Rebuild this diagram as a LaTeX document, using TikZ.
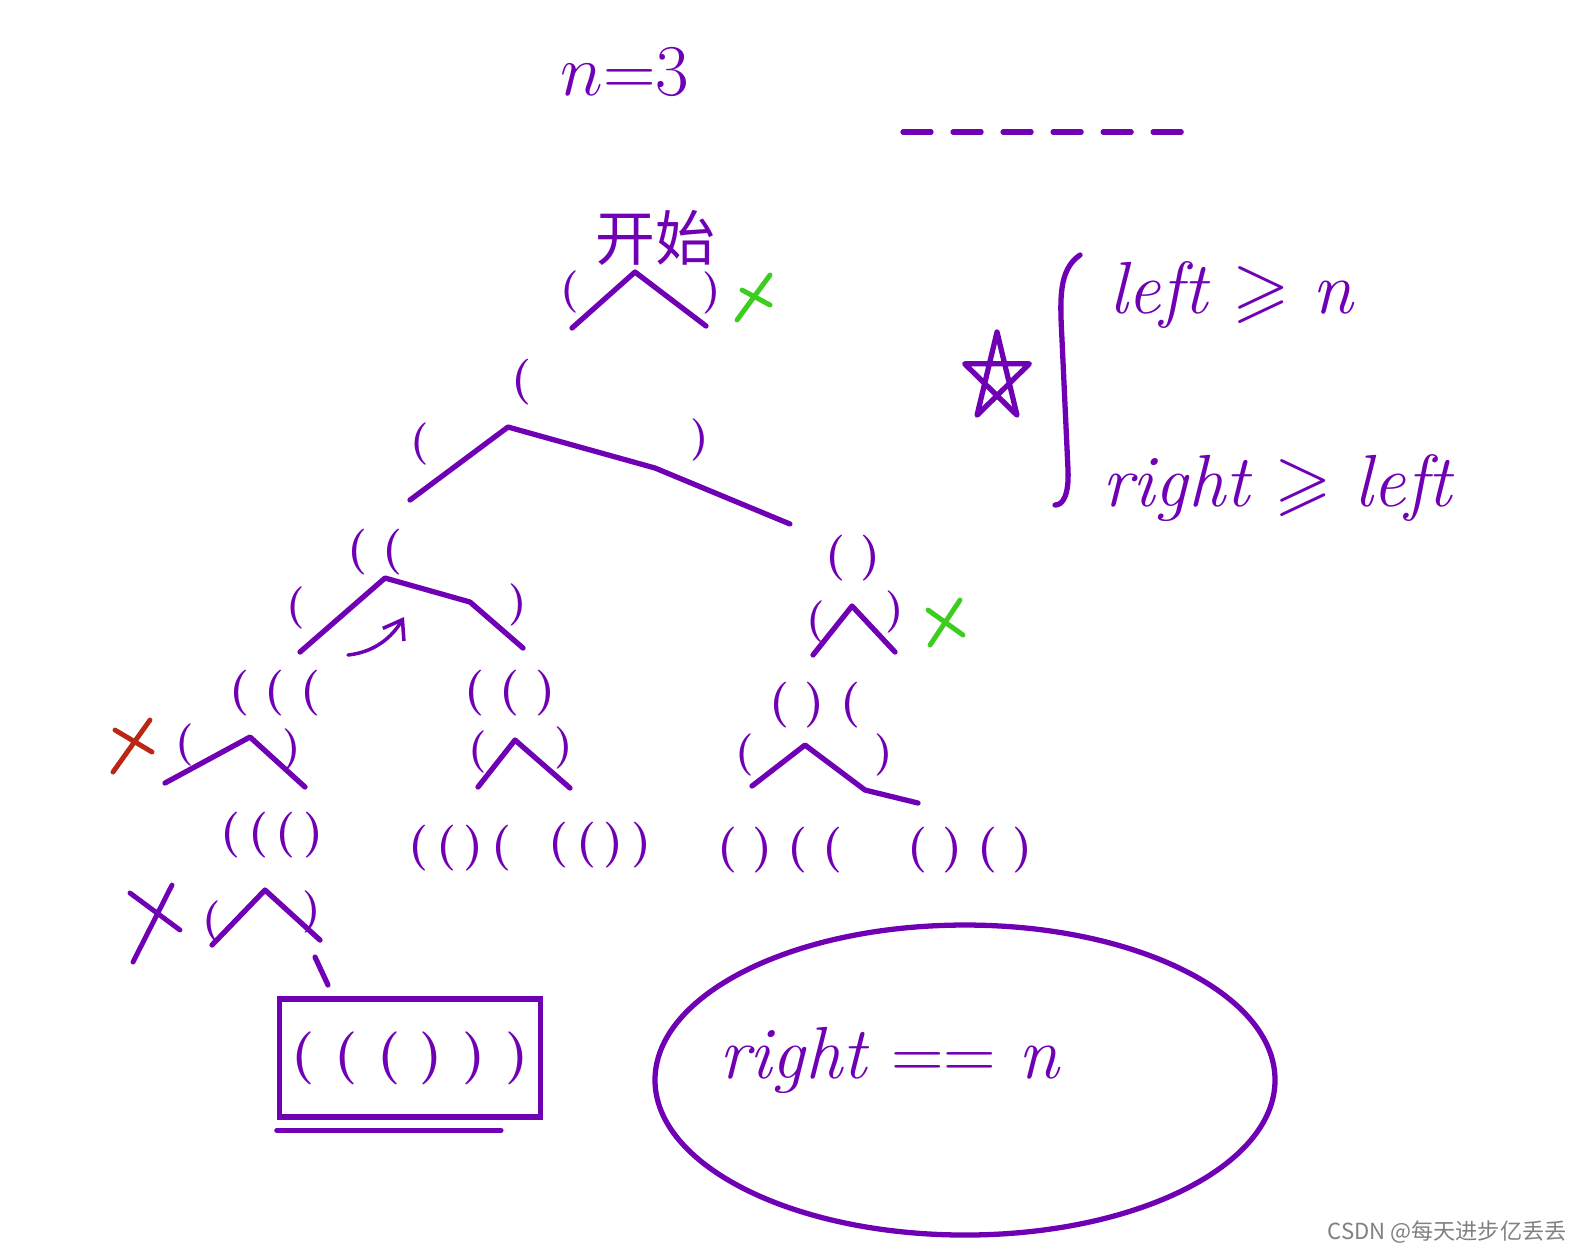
\documentclass[tikz,border=0pt]{standalone}
\usepackage{amssymb}
\usepackage{fontspec}
\newfontfamily\cjk{Noto Sans CJK SC}
\usetikzlibrary{arrows.meta}

\definecolor{pen}{RGB}{112,0,180}
\definecolor{okgreen}{RGB}{60,205,30}
\definecolor{badred}{RGB}{185,40,20}

\tikzset{
  edge/.style={pen, line width=1.5pt, line cap=round, line join=round},
  state/.style={pen, font=\bfseries\fontsize{13}{15}\selectfont, inner sep=1pt},
  brk/.style={pen, font=\bfseries\fontsize{12}{14}\selectfont, inner sep=1pt},
  cross/.style={line width=1.4pt, line cap=round},
  hand/.style={pen, font=\fontsize{21}{25}\selectfont, inner sep=1pt}
}

\begin{document}
\begin{tikzpicture}[x=0.01cm, y=-0.01cm]
    \useasboundingbox (0,0) rectangle (1577,1259);

    % n and the empty slots
    \node[hand, font=\fontsize{22}{26}\selectfont] (nval) at (625,72) {${n}{=}{3}$};
    \coordinate (slotL) at (903,132);
    \coordinate (slotR) at (1183,132);
    \draw[edge, dash pattern=on 0.28cm off 0.22cm] (slotL) -- (slotR);

    % Root
    \node[pen, font=\cjk\fontsize{17}{20}\selectfont] (start) at (655,238) {开始};
    \coordinate (a0) at (635,272);
    \coordinate (a0l) at (572,328);
    \coordinate (a0r) at (706,326);
    \draw[edge] (a0l) -- (a0) -- (a0r);
    \node[brk] (b0l) at (570,292) {(};
    \node[brk] (b0r) at (712,293) {)};
    \coordinate (g0a) at (737,320); \coordinate (g0b) at (770,275);
    \coordinate (g0c) at (742,290); \coordinate (g0d) at (770,305);
    \draw[cross, okgreen] (g0a) -- (g0b) (g0c) -- (g0d);

    % Level 1
    \node[state] (s1) at (522,382) {(};
    \coordinate (a1) at (508,427);
    \coordinate (a1l) at (410,500);
    \coordinate (a1m) at (655,468);
    \coordinate (a1r) at (790,524);
    \draw[edge] (a1l) -- (a1) -- (a1m) -- (a1r);
    \node[brk] (b1l) at (420,444) {(};
    \node[brk] (b1r) at (700,440) {)};

    % Level 2
    \node[state] (s2) at (375,552) {(\,\,(};
    \node[state] (s3) at (853,558) {(\,\,)};
    \coordinate (a2) at (385,578);
    \coordinate (a2l) at (300,652);
    \coordinate (a2m) at (470,602);
    \coordinate (a2r) at (523,648);
    \draw[edge] (a2l) -- (a2) -- (a2m) -- (a2r);
    \node[brk] (b2l) at (296,608) {(};
    \node[brk] (b2r) at (518,605) {)};
    \coordinate (back0) at (348,655);
    \coordinate (back1) at (404,617);
    \draw[pen, line width=1pt, line cap=round, -{Straight Barb[length=5pt,width=7pt]}]
      (back0) .. controls (375,652) and (392,637) .. (back1);

    \coordinate (a3) at (852,606);
    \coordinate (a3l) at (813,655);
    \coordinate (a3r) at (895,652);
    \draw[edge] (a3l) -- (a3) -- (a3r);
    \node[brk] (b3l) at (816,622) {(};
    \node[brk] (b3r) at (895,612) {)};
    \coordinate (g1a) at (930,645); \coordinate (g1b) at (960,600);
    \coordinate (g1c) at (928,610); \coordinate (g1d) at (963,635);
    \draw[cross, okgreen] (g1a) -- (g1b) (g1c) -- (g1d);

    % Level 3
    \node[state] (s4) at (275,693) {(\,\,(\,\,(};
    \node[state] (s5) at (510,693) {(\,\,(\,\,)};
    \node[state] (s6) at (815,705) {(\,\,)\,\,(};

    \coordinate (a4) at (250,737);
    \coordinate (a4l) at (165,783);
    \coordinate (a4r) at (305,787);
    \draw[edge] (a4l) -- (a4) -- (a4r);
    \node[brk] (b4l) at (185,745) {(};
    \node[brk] (b4r) at (292,750) {)};
    \coordinate (r0a) at (113,772); \coordinate (r0b) at (150,720);
    \coordinate (r0c) at (115,730); \coordinate (r0d) at (152,752);
    \draw[cross, badred] (r0a) -- (r0b) (r0c) -- (r0d);

    \coordinate (a5) at (515,740);
    \coordinate (a5l) at (478,787);
    \coordinate (a5r) at (570,788);
    \draw[edge] (a5l) -- (a5) -- (a5r);
    \node[brk] (b5l) at (478,752) {(};
    \node[brk] (b5r) at (564,748) {)};

    \coordinate (a6) at (805,745);
    \coordinate (a6l) at (752,786);
    \coordinate (a6m) at (865,790);
    \coordinate (a6r) at (918,803);
    \draw[edge] (a6l) -- (a6) -- (a6m) -- (a6r);
    \node[brk] (b6l) at (745,755) {(};
    \node[brk] (b6r) at (884,755) {)};

    % Level 4
    \node[state] (s7) at (272,835) {(\,(\,(\,)};
    \node[state] (s8) at (460,848) {(\,(\,)\,(};
    \node[state] (s9) at (600,845) {(\,(\,)\,)};
    \node[state] (s10) at (780,850) {(\,\,)\,\,(\,\,(};
    \node[state] (s11) at (970,850) {(\,\,)\,\,(\,\,)};

    \coordinate (a7) at (265,890);
    \coordinate (a7l) at (212,945);
    \coordinate (a7r) at (320,940);
    \draw[edge] (a7l) -- (a7) -- (a7r);
    \node[brk] (b7l) at (212,922) {(};
    \node[brk] (b7r) at (312,912) {)};
    \coordinate (x0a) at (133,962); \coordinate (x0b) at (172,885);
    \coordinate (x0c) at (130,893); \coordinate (x0d) at (180,930);
    \draw[cross, pen] (x0a) -- (x0b) (x0c) -- (x0d);

    % Result
    \coordinate (tail0) at (315,957);
    \coordinate (tail1) at (328,985);
    \draw[edge] (tail0) -- (tail1);
    \node[draw=pen, line width=1.5pt, pen, font=\bfseries\fontsize{15}{17}\selectfont,
          minimum width=2.45cm, minimum height=1.18cm] (ans) at (410,1058) {( ( ( ) ) )};
    \draw[edge] ([yshift=-3pt]ans.south west) -- ([yshift=-3pt,xshift=-12pt]ans.south east);

    % Pruning rules
    \draw[edge, shift={(997,378)}] (-90:34 and 46) -- (54:34 and 46) -- (198:34 and 46)
      -- (342:34 and 46) -- (126:34 and 46) -- cycle;
    \coordinate (br0) at (1080,255);
    \coordinate (br1) at (1055,505);
    \draw[edge] (br0) .. controls (1058,270) and (1060,300) .. (1062,340)
      -- (1068,470) .. controls (1069,495) and (1063,505) .. (br1);
    \node[hand, anchor=west] (cond1) at (1105,295) {\textit{left} $\geqslant$ \textit{n}};
    \node[hand, anchor=west] (cond2) at (1098,488) {\textit{right} $\geqslant$ \textit{left}};

    % Stop condition
    \coordinate (goalc) at (965,1080);
    \draw[edge] (goalc) ellipse (310 and 155);
    \node[hand, anchor=west] (goal) at (715,1060) {\textit{right} $==$ \textit{n}};

    % watermark
    \node[gray, font=\cjk\fontsize{6.3}{7}\selectfont] (mark) at (1447,1232) {CSDN @每天进步亿丢丢};
\end{tikzpicture}
\end{document}
